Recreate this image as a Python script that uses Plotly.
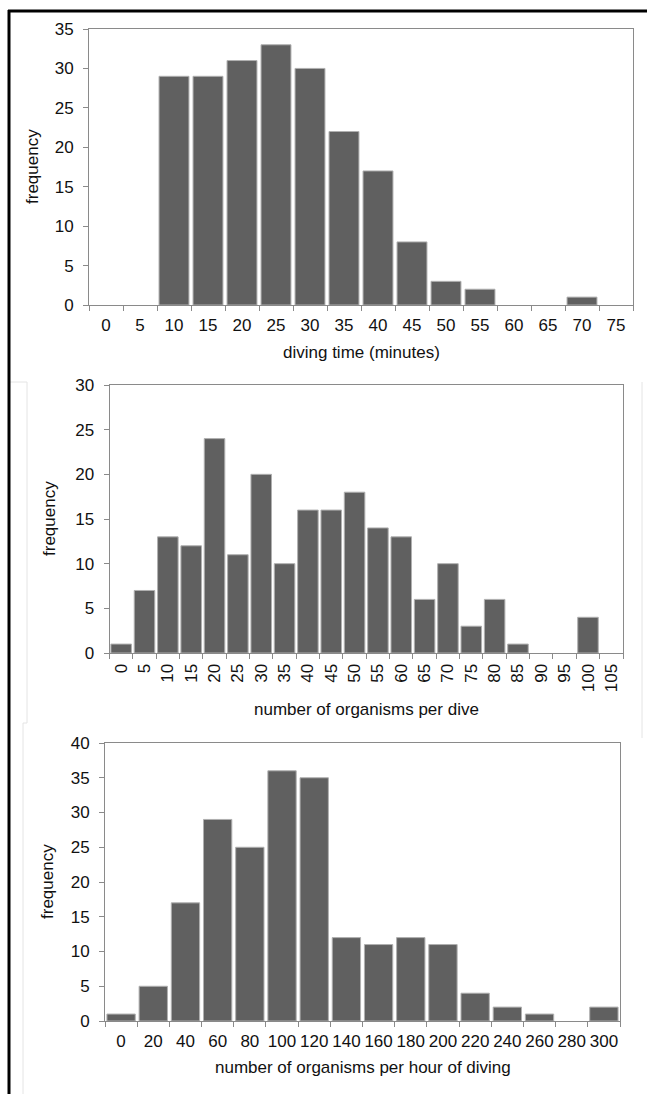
import plotly.graph_objects as go

# ---------------- data ----------------
dive_time_bins = ["0", "5", "10", "15", "20", "25", "30", "35", "40", "45",
                  "50", "55", "60", "65", "70", "75"]
dive_time_freq = [0, 0, 29, 29, 31, 33, 30, 22, 17, 8, 3, 2, 0, 0, 1, 0]

per_dive_bins = ["0", "5", "10", "15", "20", "25", "30", "35", "40", "45", "50",
                 "55", "60", "65", "70", "75", "80", "85", "90", "95", "100", "105"]
per_dive_freq = [1, 7, 13, 12, 24, 11, 20, 10, 16, 16, 18, 14, 13, 6, 10, 3, 6, 1,
                 0, 0, 4, 0]

per_hour_bins = ["0", "20", "40", "60", "80", "100", "120", "140", "160", "180",
                 "200", "220", "240", "260", "280", "300"]
per_hour_freq = [1, 5, 17, 29, 25, 36, 35, 12, 11, 12, 11, 4, 2, 1, 0, 2]

x_titles = ["diving time (minutes)", "number of organisms per dive",
            "number of organisms per hour of diving"]
y_title = "frequency"
y_max = [35, 30, 40]

# ---------------- layout constants ----------------
W, H = 647, 1094
FONT = "Liberation Sans, Arial, sans-serif"
FS = 17
BAR = "#606060"
AX = "#8a8a8a"

# plot boxes in pixels: (left, right, top, bottom)
boxes = [(89, 633, 29, 305), (109.5, 623, 385, 653), (105, 620, 743, 1021)]
ylab_x = [32, 49, 47]
xtitle_y = [353, 709, 1067]

fig = go.Figure()
datasets = [(dive_time_bins, dive_time_freq), (per_dive_bins, per_dive_freq),
            (per_hour_bins, per_hour_freq)]

for i, (cats, vals) in enumerate(datasets):
    n = "" if i == 0 else str(i + 1)
    fig.add_trace(go.Bar(x=cats, y=vals, xaxis="x" + n, yaxis="y" + n,
                         marker=dict(color=BAR,
                                     line=dict(color="#b0b0b0",
                                               width=[1 if v > 0 else 0 for v in vals])),
                         showlegend=False, hoverinfo="x+y"))
    l, r, t, b = boxes[i]
    xa = dict(domain=[l / W, r / W], anchor="y" + n, type="category",
              categoryorder="array", categoryarray=cats,
              tickson="boundaries", ticks="outside", ticklen=5, tickcolor=AX,
              showline=True, linecolor=AX, linewidth=1, mirror=True,
              showgrid=False, zeroline=False, automargin=False,
              tickfont=dict(family=FONT, size=FS, color="#111"),
              tickangle=-90 if i == 1 else 0, ticklabelstandoff=3 if i == 1 else 5,
              fixedrange=True)
    ya = dict(domain=[1 - b / H, 1 - t / H], anchor="x" + n, range=[0, y_max[i]],
              dtick=5, ticks="outside", ticklen=5, tickcolor=AX,
              showline=True, linecolor=AX, linewidth=1, mirror=True,
              showgrid=False, zeroline=False, automargin=False,
              tickfont=dict(family=FONT, size=FS, color="#111"),
              ticklabelstandoff=6, fixedrange=True)
    fig.layout["xaxis" + n] = xa
    fig.layout["yaxis" + n] = ya
    fig.add_annotation(text=y_title, xref="paper", yref="paper",
                       x=ylab_x[i] / W, y=1 - (t + b) / 2 / H, textangle=-90,
                       showarrow=False, xanchor="center", yanchor="middle",
                       font=dict(family=FONT, size=FS, color="#111"))
    fig.add_annotation(text=x_titles[i], xref="paper", yref="paper",
                       x=(l + r) / 2 / W, y=1 - xtitle_y[i] / H,
                       showarrow=False, xanchor="center", yanchor="middle",
                       font=dict(family=FONT, size=FS, color="#111"))

def px_line(x0, y0, x1, y1, color, width):
    fig.add_shape(type="line", xref="paper", yref="paper",
                  x0=x0 / W, y0=1 - y0 / H, x1=x1 / W, y1=1 - y1 / H,
                  line=dict(color=color, width=width), layer="above")

# faint chart-area frames
faint = "#e4e4e4"
px_line(10, 382, 27, 382, faint, 1)
px_line(27, 382, 27, 723, faint, 1)
px_line(27, 723, 23, 723, faint, 1)
px_line(23, 723, 23, 1094, faint, 1)
px_line(642, 382, 642, 738, faint, 1)

# outer black border (top and left)
px_line(8, 11, 647, 11, "black", 3)
px_line(9, 10, 9, 1094, "black", 3)

fig.update_layout(width=W, height=H, margin=dict(l=0, r=0, t=0, b=0),
                  paper_bgcolor="white", plot_bgcolor="white",
                  bargap=0.12, font=dict(family=FONT, size=FS, color="#111"))

fig.write_html("out.html", config={"displayModeBar": False})
